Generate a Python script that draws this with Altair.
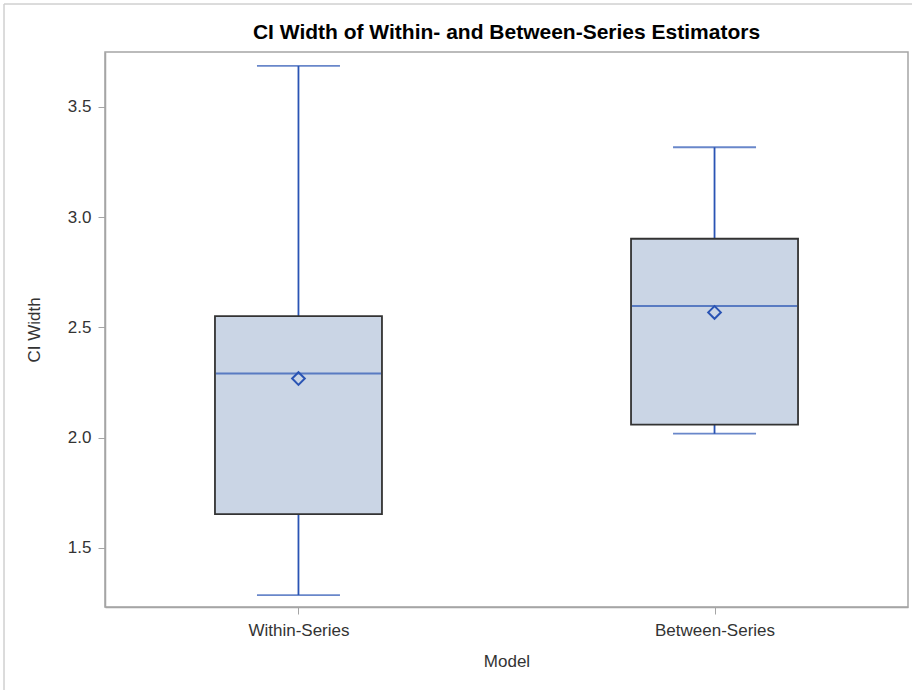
import altair as alt
import pandas as pd

# Box-plot summary statistics per estimator
groups = ["Within-Series", "Between-Series"]
whisker_low = [1.286, 2.018]
q1 = [1.653, 2.059]
median = [2.291, 2.597]
mean = [2.268, 2.568]
q3 = [2.551, 2.902]
whisker_high = [3.686, 3.317]

y_ticks = [1.5, 2.0, 2.5, 3.0, 3.5]
chart_title = ["CI Width of Within- and Between-Series Estimators"]

df = pd.DataFrame({
    "Model": groups,
    "low": whisker_low,
    "q1": q1,
    "median": median,
    "mean": mean,
    "q3": q3,
    "high": whisker_high,
})

FONT = "Liberation Sans"
BLUE = "#2A54B4"
FILL = "#CAD5E5"
FRAME = "#A5A5A5"
W, H = 803, 555

x_enc = alt.X(
    "Model:N",
    sort=groups,
    scale=alt.Scale(type="point", padding=0.465),
    axis=alt.Axis(title="Model", labelAngle=0),
)
y_scale = alt.Scale(domain=[1.232, 3.749], nice=False, zero=False)

base = alt.Chart(df)

whisker = base.mark_rule(color=BLUE, strokeWidth=1.8).encode(
    x=x_enc,
    y=alt.Y("low:Q", scale=y_scale,
            axis=alt.Axis(title="CI Width", values=y_ticks, format=".1f")),
    y2="high:Q",
)

caps_low = base.mark_tick(color=BLUE, size=83, thickness=1.8).encode(
    x=x_enc, y=alt.Y("low:Q", scale=y_scale)
)
caps_high = base.mark_tick(color=BLUE, size=83, thickness=1.8).encode(
    x=x_enc, y=alt.Y("high:Q", scale=y_scale)
)

box = base.mark_bar(
    size=167, fill=FILL, stroke="#333333", strokeWidth=1.8
).encode(
    x=x_enc,
    y=alt.Y("q1:Q", scale=y_scale),
    y2="q3:Q",
)

med = base.mark_tick(color=BLUE, size=165, thickness=1.8).encode(
    x=x_enc, y=alt.Y("median:Q", scale=y_scale)
)

mean_pt = base.mark_point(
    shape="diamond", filled=False, color=BLUE, size=160, strokeWidth=2, opacity=1
).encode(
    x=x_enc, y=alt.Y("mean:Q", scale=y_scale)
)

# chart title drawn as a text mark centred over the plot frame
title_text = alt.Chart(pd.DataFrame({"t": chart_title})).mark_text(
    font=FONT, fontSize=21, fontWeight="bold", color="#000000",
    align="center", baseline="middle",
).encode(
    text="t:N", x=alt.value(W / 2), y=alt.value(-19)
)

# light outer page border (left and top edges)
border_left = alt.Chart(df).mark_rule(color="#D0D0D0", strokeWidth=1).encode(
    x=alt.value(-101), y=alt.value(-48), y2=alt.value(700)
)
border_top = alt.Chart(df).mark_rule(color="#D0D0D0", strokeWidth=1).encode(
    x=alt.value(-101), x2=alt.value(820), y=alt.value(-48)
)

chart = alt.layer(
    whisker, caps_low, caps_high, box, med, mean_pt,
    title_text, border_left, border_top
).properties(
    width=W,
    height=H,
    autosize=alt.AutoSizeParams(type="none"),
    padding={"left": 105, "top": 52, "right": 4, "bottom": 83},
).configure_view(
    stroke=FRAME, strokeWidth=1.5
).configure_axis(
    grid=False,
    domainColor=FRAME,
    domainWidth=1.5,
    tickColor=FRAME,
    tickSize=7,
    labelFont=FONT,
    labelFontSize=17,
    labelColor="#333333",
    titleFont=FONT,
    titleFontSize=17,
    titleFontWeight="normal",
    titleColor="#333333",
).configure_axisX(
    labelPadding=8,
    titlePadding=15,
).configure_axisY(
    labelPadding=7,
    titlePadding=24,
)

chart.save("out.html", embed_options={"renderer": "svg", "actions": False})
